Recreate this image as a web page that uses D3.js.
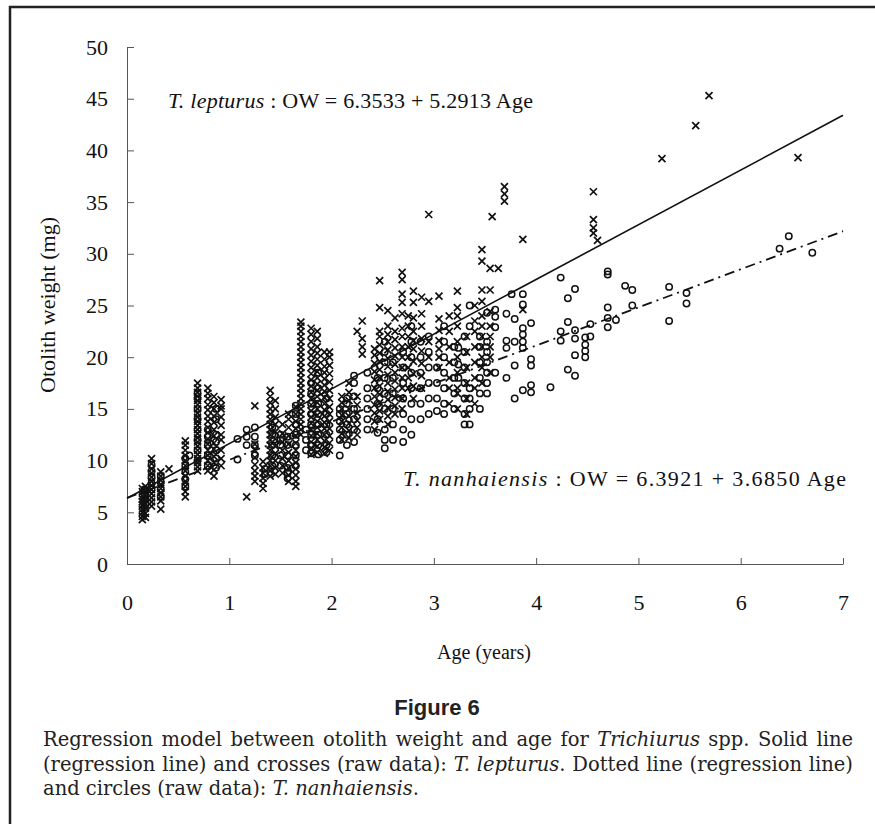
<!DOCTYPE html>
<html>
<head>
<meta charset="utf-8">
<script src="https://cdn.jsdelivr.net/npm/d3@7"></script>
<style>
  body { margin: 0; background: #fff; }
  svg { display: block; }
</style>
</head>
<body>
<svg id="chart"></svg>
<script>
// axis ticks
const xTicks = [0, 1, 2, 3, 4, 5, 6, 7];
const yTicks = [0, 5, 10, 15, 20, 25, 30, 35, 40, 45, 50];

// regression lines (from the equations printed in the figure)
const lepturusFit = { a: 6.3533, b: 5.2913 };
const nanhaiFit = { a: 6.3921, b: 3.6850 };
const fitAges = [0, 7];

// T. lepturus raw data (crosses): [age, [otolith weights]]
const lepturusCols = [
  [0.15, [4.3, 4.6, 5.0, 5.3, 5.7, 6.0, 6.3, 6.6, 7.0, 7.3]],
  [0.18, [4.5, 4.9, 5.4, 5.8, 6.2, 6.7, 7.1, 7.5]],
  [0.24, [5.6, 6.0, 6.4, 6.8, 7.2, 7.6, 8.0, 8.4, 8.8, 9.2, 9.7, 10.2]],
  [0.33, [5.3, 6.1, 6.5, 6.9, 7.3, 7.7, 8.1, 8.5, 8.9]],
  [0.41, [9.2]],
  [0.57, [6.5, 7.0, 7.5, 8.0, 8.5, 9.0, 9.5, 10.0, 10.5, 11.0, 11.5, 11.9]],
  [0.69, [9.0, 9.4, 9.8, 10.2, 10.6, 11.0, 11.4, 11.8, 12.2, 12.6, 13.0, 13.4, 13.8, 14.2, 14.6, 15.0, 15.4, 15.8, 16.2, 16.6, 17.0, 17.5]],
  [0.79, [9.0, 9.5, 10.0, 10.5, 11.0, 11.6, 12.1, 12.7, 13.2, 13.8, 14.3, 14.9, 15.4, 16.0, 16.5, 17.0]],
  [0.85, [8.5, 9.1, 9.8, 10.4, 11.1, 11.7, 12.4, 13.0, 13.7, 14.3, 15.0, 15.6, 16.2]],
  [0.92, [9.5, 10.2, 11.0, 12.0, 12.5, 13.4, 14.2, 15.0, 15.3, 15.9]],
  [1.17, [6.5]],
  [1.25, [8.0, 8.5, 9.0, 9.6, 10.3, 11.0, 11.6, 15.3]],
  [1.33, [7.3, 7.8, 8.3, 8.8, 9.3, 9.9]],
  [1.40, [8.5, 9.0, 9.5, 10.0, 10.5, 11.0, 11.5, 12.0, 12.5, 13.0, 13.5, 14.0, 14.5, 15.0, 15.6, 16.2, 16.8]],
  [1.45, [8.7, 9.3, 10.0, 10.7, 11.4, 12.1, 12.8, 13.5, 14.2, 15.0, 15.8]],
  [1.52, [8.8, 9.5, 10.2, 11.0, 11.8, 12.6, 13.5]],
  [1.58, [8.0, 8.6, 9.3, 10.0, 10.8, 11.6, 12.4, 13.2, 14.0, 14.5]],
  [1.65, [7.5, 8.0, 8.6, 9.2, 9.8, 10.4, 11.0, 11.7, 12.4, 13.1, 13.8, 14.5, 15.2]],
  [1.70, [12.5, 13.0, 13.5, 14.0, 14.5, 15.0, 15.5, 16.0, 16.5, 17.0, 17.5, 18.0, 18.5, 19.0, 19.5, 20.0, 20.5, 21.0, 21.5, 22.0, 22.5, 23.0, 23.4]],
  [1.80, [10.6, 11.2, 11.8, 12.4, 13.0, 13.6, 14.2, 14.8, 15.4, 16.0, 16.6, 17.2, 17.8, 18.4, 19.0, 19.6, 20.2, 20.8, 21.5, 22.2, 22.8]],
  [1.86, [10.8, 11.4, 12.0, 12.6, 13.2, 13.8, 14.4, 15.0, 15.6, 16.2, 16.8, 17.4, 18.0, 18.6, 19.2, 19.8, 20.4, 21.0, 21.8, 22.5]],
  [1.93, [10.7, 11.3, 11.9, 12.5, 13.1, 13.7, 14.3, 14.9, 15.5, 16.1, 16.7, 17.3, 17.9, 18.5, 19.1, 19.8, 20.5]],
  [1.98, [11.0, 11.7, 12.4, 13.1, 13.8, 14.5, 15.2, 16.0, 16.8, 17.6, 18.4, 19.2, 20.0, 20.5]],
  [2.10, [12.0, 12.6, 13.2, 13.8, 14.4, 15.0, 15.6, 16.2]],
  [2.17, [12.2, 12.9, 13.6, 14.3, 15.0, 15.8, 16.6, 17.5]],
  [2.25, [12.5, 13.2, 13.9, 14.6, 15.4, 16.2, 22.5]],
  [2.30, [20.3, 21.0, 21.8, 23.5]],
  [2.42, [13.0, 13.8, 14.6, 15.4, 16.2, 17.0, 17.8, 18.6, 19.4, 20.2, 20.8]],
  [2.47, [14.0, 14.8, 15.6, 16.4, 17.2, 18.0, 18.8, 19.6, 20.4, 21.2, 22.0, 22.5, 24.8, 27.4]],
  [2.55, [13.5, 14.3, 15.1, 15.9, 16.7, 17.5, 18.3, 19.1, 19.9, 20.7, 21.5, 22.2, 23.0, 24.5]],
  [2.62, [14.5, 15.3, 16.1, 16.9, 17.7, 18.5, 19.3, 20.1, 20.9, 21.7, 22.5, 23.8]],
  [2.69, [15.0, 16.0, 17.0, 18.0, 19.0, 20.0, 21.0, 22.0, 22.8, 24.2, 25.3, 26.1, 27.5, 28.2]],
  [2.75, [17.0, 18.0, 19.0, 20.0, 21.0, 22.0, 23.0, 24.0]],
  [2.80, [16.0, 17.2, 18.4, 19.6, 20.8, 21.6, 22.5, 23.8, 25.3, 26.4]],
  [2.88, [17.0, 18.2, 19.4, 20.6, 21.8, 23.0, 24.2, 25.8]],
  [2.95, [20.0, 21.5, 25.4, 33.8]],
  [3.05, [19.0, 20.0, 20.8, 21.6, 22.6, 23.7, 25.9]],
  [3.15, [15.5, 17.0, 18.0, 19.5, 21.0, 22.5, 24.0]],
  [3.23, [15.0, 16.5, 17.0, 18.5, 20.0, 21.5, 23.0, 24.0, 24.8, 26.4]],
  [3.32, [14.5, 16.0, 17.5, 19.0, 20.5, 22.0]],
  [3.40, [15.5, 17.0, 18.0, 19.5, 21.0, 22.5, 23.5, 25.0]],
  [3.47, [17.5, 19.0, 20.0, 21.0, 22.0, 23.0, 24.0, 25.4, 26.5, 29.3, 30.4]],
  [3.55, [18.5, 20.0, 21.0, 22.0, 23.0, 24.4, 26.5, 28.6]],
  [3.57, [33.6]],
  [3.63, [28.6]],
  [3.69, [35.1, 35.8, 36.5]],
  [3.87, [24.6, 31.4]],
  [4.56, [32.0, 32.5, 33.3, 36.0]],
  [4.60, [31.3]],
  [5.23, [39.2]],
  [5.56, [42.4]],
  [5.69, [45.3]],
  [6.56, [39.3]]
];

// T. nanhaiensis raw data (circles): [age, [otolith weights]]
const nanhaiCols = [
  [0.17, [5.5, 6.2, 6.8, 7.2]],
  [0.24, [7.2, 7.8, 8.4, 9.0, 9.6]],
  [0.33, [6.5, 7.2, 7.9, 8.5]],
  [0.57, [7.5, 8.2, 8.9, 9.5, 10.2]],
  [0.61, [10.5]],
  [0.69, [10.0, 11.0, 12.0, 13.0, 14.0, 15.0, 16.0, 16.5]],
  [0.79, [9.5, 10.5, 11.5, 12.3, 13.0]],
  [0.87, [9.3, 10.2, 11.0, 11.8, 12.5, 14.0, 15.0]],
  [1.08, [10.1, 12.1]],
  [1.17, [11.5, 12.3, 13.0]],
  [1.25, [10.5, 11.5, 12.3, 13.2]],
  [1.35, [8.7, 9.2]],
  [1.42, [9.5, 10.5, 11.5, 12.5, 13.2]],
  [1.50, [9.5, 10.5, 11.5, 12.0, 12.5]],
  [1.57, [8.3, 8.8, 9.3, 10.5, 11.5, 12.3]],
  [1.65, [9.5, 10.5, 11.5, 12.5, 13.5, 14.5, 15.3]],
  [1.75, [11.0, 12.0, 13.0]],
  [1.80, [10.7, 11.5, 12.5, 13.5, 14.5, 15.5, 16.5, 17.5]],
  [1.87, [10.6, 11.5, 12.5, 13.5, 14.5, 15.5, 17.0, 18.5]],
  [1.95, [10.8, 11.5, 12.5, 13.5, 14.5, 16.0]],
  [2.08, [10.5, 12.0, 13.0, 13.8, 14.5, 15.0]],
  [2.15, [11.5, 12.5, 13.5, 14.5, 15.5, 16.0]],
  [2.22, [11.8, 13.0, 14.0, 15.0, 16.2, 17.5, 18.2]],
  [2.35, [13.0, 14.0, 15.0, 16.0, 17.0, 18.5]],
  [2.45, [12.7, 14.0, 15.5, 17.0, 18.0]],
  [2.52, [11.2, 12.0, 13.0, 15.0, 16.5, 18.0, 19.5, 20.5, 21.5]],
  [2.60, [12.0, 13.5, 15.0, 16.5, 18.0, 19.5]],
  [2.70, [11.8, 13.0, 14.5, 16.0, 17.5, 19.0, 20.5]],
  [2.78, [12.5, 14.0, 15.5, 17.0, 18.5, 20.0, 21.5, 23.0]],
  [2.87, [14.0, 15.5, 17.0, 18.5, 20.0, 21.5]],
  [2.95, [14.5, 16.0, 17.5, 19.0, 20.5, 22.0]],
  [3.03, [14.8, 16.0, 17.5, 19.0]],
  [3.10, [14.5, 15.5, 17.0, 18.5, 20.0, 21.5, 23.0]],
  [3.20, [15.0, 16.5, 18.0, 19.5, 21.0]],
  [3.24, [18.0, 19.3, 20.9]],
  [3.30, [13.5, 14.5, 16.0, 17.5, 19.0, 20.5, 22.0]],
  [3.35, [13.5, 15.0, 16.0, 17.0, 23.0, 25.0]],
  [3.45, [15.0, 16.5, 18.0, 19.5, 21.0, 22.0]],
  [3.52, [16.5, 17.5, 18.5, 19.5, 20.5, 21.5, 24.3]],
  [3.60, [18.5, 22.9, 23.9, 24.6]],
  [3.71, [18.0, 20.9, 21.6, 24.2]],
  [3.76, [26.1]],
  [3.79, [16.0, 19.2, 21.5, 23.7]],
  [3.87, [16.8, 20.9, 21.5, 22.2, 22.8, 25.1, 26.1]],
  [3.95, [16.6, 17.3, 19.2, 19.8, 23.3]],
  [4.14, [17.1]],
  [4.24, [21.6, 22.5, 27.7]],
  [4.31, [18.8, 23.4, 25.7]],
  [4.38, [18.2, 20.2, 21.8, 22.6, 26.6]],
  [4.48, [20.0, 20.6, 21.2, 21.9]],
  [4.53, [22.0, 23.2]],
  [4.70, [22.9, 23.8, 24.8, 28.0, 28.3]],
  [4.78, [23.6]],
  [4.87, [26.9]],
  [4.94, [25.0, 26.5]],
  [5.30, [23.5, 26.8]],
  [5.47, [25.2, 26.2]],
  [6.38, [30.5]],
  [6.47, [31.7]],
  [6.70, [30.1]]
];

const width = 875, height = 824;
const serif = "'Liberation Serif', 'Times New Roman', serif";

const svg = d3.select('#chart')
    .attr('width', width)
    .attr('height', height);

// frame of the figure (only top and left edges are in view)
svg.append('path')
    .attr('d', 'M10,' + height + 'V7H' + width)
    .attr('fill', 'none')
    .attr('stroke', '#222')
    .attr('stroke-width', 2.5);

const x = d3.scaleLinear().domain([0, 7]).range([127, 843]);
const y = d3.scaleLinear().domain([0, 50]).range([564, 47]);

// axes, ticks point inward
const gx = svg.append('g')
    .attr('transform', 'translate(0,' + y(0) + ')')
    .call(d3.axisBottom(x).tickValues(xTicks).tickSize(-6).tickSizeOuter(0).tickPadding(30).tickFormat(d3.format('d')));

const gy = svg.append('g')
    .attr('transform', 'translate(' + x(0) + ',0)')
    .call(d3.axisLeft(y).tickValues(yTicks).tickSize(-7).tickSizeOuter(0).tickPadding(19).tickFormat(d3.format('d')));

[gx, gy].forEach(g => {
  g.attr('font-family', serif).attr('font-size', 22);
  g.selectAll('path, line').attr('stroke', '#555');
  g.selectAll('text').attr('fill', '#111');
});

// flatten columns into points
const flat = cols => cols.flatMap(([age, vals]) => vals.map(v => [age, v]));
const lepturus = flat(lepturusCols);
const nanhai = flat(nanhaiCols);

svg.append('g')
    .selectAll('circle')
    .data(nanhai)
    .enter()
    .append('circle')
    .attr('cx', d => x(d[0]))
    .attr('cy', d => y(d[1]))
    .attr('r', 3.2)
    .attr('fill', 'none')
    .attr('stroke', '#111')
    .attr('stroke-width', 1.5);

svg.append('g')
    .selectAll('path')
    .data(lepturus)
    .enter()
    .append('path')
    .attr('transform', d => 'translate(' + x(d[0]) + ',' + y(d[1]) + ')')
    .attr('d', 'M-3.5,-3.5L3.5,3.5M-3.5,3.5L3.5,-3.5')
    .attr('stroke', '#111')
    .attr('stroke-width', 1.7);

// regression lines
const fitLine = fit => d3.line()
    .x(d => x(d))
    .y(d => y(fit.a + fit.b * d));

svg.append('path')
    .datum(fitAges)
    .attr('d', fitLine(lepturusFit))
    .attr('fill', 'none')
    .attr('stroke', '#111')
    .attr('stroke-width', 1.6);

svg.append('path')
    .datum(fitAges)
    .attr('d', fitLine(nanhaiFit))
    .attr('fill', 'none')
    .attr('stroke', '#111')
    .attr('stroke-width', 1.8)
    .attr('stroke-dasharray', '10,5,2,5');

// stretch a text element so it spans a given width
const fitWidth = (t, w) => {
  const natural = t.node().getComputedTextLength();
  const n = t.text().length;
  t.attr('letter-spacing', (w - natural) / (n - 1));
};

// equations
const eq = (tx, ty, w, species, rest) => {
  const t = svg.append('text')
      .attr('x', tx)
      .attr('y', ty)
      .attr('font-family', serif)
      .attr('font-size', 22)
      .attr('fill', '#111');
  t.append('tspan').attr('font-style', 'italic').text(species);
  t.append('tspan').text(rest);
  fitWidth(t, w);
};
eq(168, 108, 365, 'T. lepturus', ' : OW = 6.3533 + 5.2913 Age');
eq(403, 486, 443, 'T. nanhaiensis', ' : OW = 6.3921 + 3.6850 Age');

// axis titles
svg.append('text')
    .attr('transform', 'translate(55,305) rotate(-90)')
    .attr('text-anchor', 'middle')
    .attr('font-family', serif)
    .attr('font-size', 22)
    .attr('fill', '#111')
    .text('Otolith weight (mg)');

svg.append('text')
    .attr('x', 484)
    .attr('y', 659)
    .attr('text-anchor', 'middle')
    .attr('font-family', serif)
    .attr('font-size', 20)
    .attr('fill', '#111')
    .text('Age (years)');

// figure label and caption
svg.append('text')
    .attr('x', 437)
    .attr('y', 715)
    .attr('text-anchor', 'middle')
    .attr('font-family', "'Liberation Sans Narrow', 'Liberation Sans', sans-serif")
    .attr('font-stretch', 'condensed')
    .attr('font-weight', 'bold')
    .attr('font-size', 22)
    .attr('fill', '#222')
    .text('Figure 6');

const capFont = "'DejaVu Serif', serif";
const capLines = [
  [['Regression model between otolith weight and age for ', false], ['Trichiurus', true], [' spp. Solid line', false]],
  [['(regression line) and crosses (raw data): ', false], ['T. lepturus', true], ['. Dotted line (regression line)', false]],
  [['and circles (raw data): ', false], ['T. nanhaiensis', true], ['.', false]]
];
capLines.forEach((parts, i) => {
  const t = svg.append('text')
      .attr('x', 43)
      .attr('y', 746 + i * 24.5)
      .attr('font-family', capFont)
      .attr('font-size', 19.5)
      .attr('fill', '#222');
  parts.forEach(([s, it]) => {
    t.append('tspan').attr('font-style', it ? 'italic' : 'normal').text(s);
  });
  // justify the full lines to the right edge
  if (i < 2) {
    const natural = t.node().getComputedTextLength();
    const spaces = parts.map(p => p[0]).join('').split(' ').length - 1;
    t.attr('word-spacing', (853 - 43 - natural) / spaces);
  }
});
</script>
</body>
</html>
